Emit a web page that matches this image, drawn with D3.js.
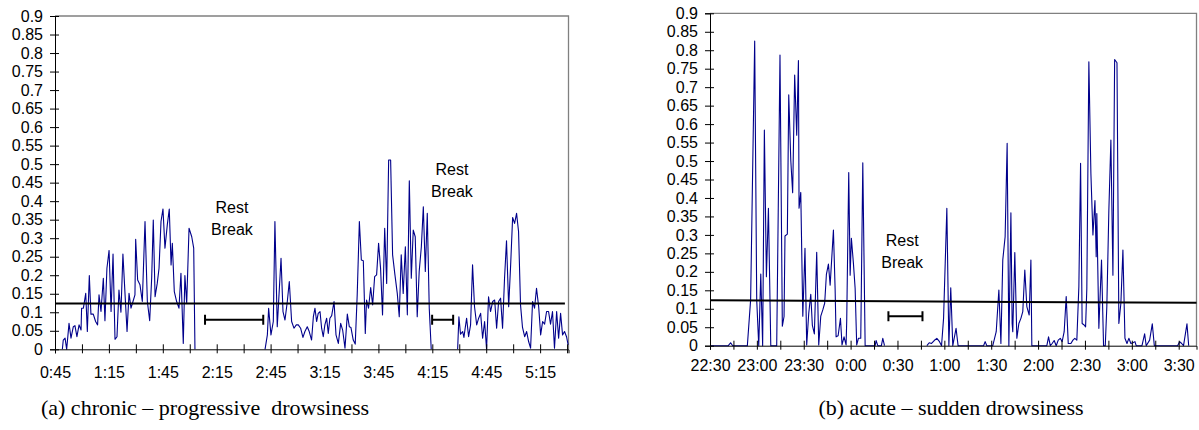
<!DOCTYPE html>
<style>
body { margin: 0; background: #fff; }
.axis .domain, .axis line { stroke: #000; }
</style>
<svg width="1199" height="430"></svg>
<script src="https://d3js.org/d3.v7.min.js"></script>
<script>
// chronic: minutes after midnight, null = no data (rest break)
var chronicTime = [49.1, 49.6, 50.6, 51.5, 52.8, 53.9, 55.2, 56.1, 57.2, 58.4, 59.5, 59.8, 60.8, 62.1, 63.0, 64.1, 65.0, 66.3, 67.6, 68.7,
    69.5, 70.6, 71.9, 72.8, 73.9, 75.1, 76.2, 77.3, 78.4, 79.5, 80.6, 81.7, 82.8, 84.0, 85.1, 86.2, 87.3, 88.4, 89.5, 89.9,
    91.0, 92.3, 93.6, 95.1, 96.4, 97.7, 98.8, 99.7, 100.7, 101.9, 102.9, 104.0, 105.1, 106.2, 107.5, 108.6, 109.6, 110.3, 111.4, 112.7,
    114.0, 115.1, 116.4, 117.3, 118.3, 119.6, 121.1, 122.2, 122.9, 140,
    161.9, 163.2, 163.9, 165.2, 166.5, 167.4, 168.7, 170.8, 171.9, 173.0, 174.3, 175.4, 176.7, 178.0, 179.3, 180.4, 181.7, 183.0, 184.1, 185.4,
    186.5, 187.8, 188.8, 189.7, 190.6, 191.5, 192.5, 193.4, 194.3, 195.2, 196.2, 197.1, 198.0, 199.0, 200.3, 201.4, 202.7, 204.0, 205.1, 206.4,
    207.7, 208.8, 209.7, 211.0, 212.1, 213.2, 214.4, 215.5, 216.6, 217.7, 218.4, 219.5, 220.7, 221.8, 222.9, 224.0, 225.1, 226.2, 227.3, 228.5,
    229.6, 230.7, 231.8, 232.9, 234.2, 235.5, 236.6, 237.7, 238.8, 240.0, 241.1, 242.2, 243.3, 244.4, 245.5, 246.6, 247.7, 248.9, 250.0, 251.1,
    252.2, 253.3, 254.4, 260,
    269.1, 269.8, 270.7, 271.9, 272.6, 273.3, 274.1, 275.2, 276.3, 277.4, 278.5, 279.7, 280.8, 281.9, 283.0, 284.1, 285.2, 286.3, 287.4, 288.6,
    289.7, 290.8, 291.9, 293.0, 294.1, 295.2, 296.3, 297.5, 298.6, 299.7, 300.8, 301.9, 303.0, 304.1, 305.2, 306.4, 307.5, 308.6, 309.7, 310.8,
    311.9, 313.0, 314.2, 315.3, 316.4, 317.5, 318.6, 319.7, 320.8, 321.9, 323.0, 324.2, 325.3, 326.4, 327.5, 328.6, 329.7, 330.6];
var chronicValue = [0, 0.025, 0.030, 0, 0.070, 0.030, 0.061, 0.064, 0.034, 0.066, 0.052, 0.111, 0.111, 0.151, 0.048, 0.199, 0.095, 0.095, 0.075, 0.066,
    0.147, 0.102, 0.192, 0.077, 0.219, 0.267, 0.102, 0.257, 0.027, 0.034, 0.160, 0.100, 0.257, 0.147, 0.048, 0.151, 0.111, 0.129, 0.147, 0.297,
    0.187, 0.174, 0.129, 0.345, 0.129, 0.077, 0.192, 0.349, 0.142, 0.178, 0.219, 0.345, 0.379, 0.273, 0.336, 0.379, 0.228, 0.286, 0.156, 0.129,
    0.111, 0.205, 0.016, 0.199, 0.124, 0.327, 0.304, 0.273, 0, null,
    0, 0.039, 0.111, 0.039, 0.075, 0.345, 0.061, 0.246, 0.102, 0.079, 0.129, 0.183, 0.075, 0.057, 0.066, 0.066, 0.057, 0.032, 0.048, 0.061,
    0.048, 0.025, 0.088, 0.111, 0.075, 0.097, 0.102, 0.057, 0.034, 0.066, 0.084, 0.043, 0.084, 0.091, 0.129, 0.039, 0.016, 0.070, 0.052, 0.003,
    0.095, 0.061, 0.059, 0.025, 0.014, 0.147, 0.345, 0.241, 0.239, 0.043, 0.133, 0.111, 0.167, 0.120, 0.196, 0.201, 0.286, 0.219, 0.093, 0.327,
    0.178, 0.511, 0.511, 0.255, 0.201, 0.151, 0.088, 0.255, 0.151, 0.277, 0.093, 0.455, 0.192, 0.322, 0.304, 0.088, 0.210, 0.277, 0.385, 0.210,
    0.367, 0.111, 0, null,
    0, 0.088, 0.041, 0.048, 0.032, 0.057, 0.084, 0.034, 0.066, 0.228, 0.115, 0.066, 0.084, 0.097, 0.030, 0.075, 0, 0.142, 0.102, 0.129,
    0.133, 0.057, 0.129, 0.138, 0.057, 0.192, 0.293, 0.115, 0.228, 0.356, 0.340, 0.367, 0.318, 0.120, 0.059, 0.034, 0.048, 0.021, 0.003, 0.129,
    0.111, 0.165, 0.115, 0.039, 0.075, 0.068, 0.102, 0.102, 0.068, 0.102, 0.003, 0.102, 0.030, 0.097, 0.039, 0.048, 0.034, 0.012];

// acute: minutes after 22:30
var acuteTime = [0, 11.7, 13.2, 14.5, 23.9, 26.0, 28.6, 29.9, 31.2, 32.5, 33.7, 34.8, 36.1, 37.4, 38.9, 42.7, 44.8, 46.3, 47.4, 48.0,
    49.5, 50.4, 51.7, 52.9, 54.2, 55.5, 56.6, 57.0, 58.1, 59.4, 60.8, 61.9, 63.2, 64.5, 65.5, 66.8, 68.3, 69.6, 70.9, 72.2,
    73.4, 74.5, 75.8, 76.9, 79.0, 80.1, 80.7, 82.0, 83.5, 84.5, 85.8, 87.1, 87.5, 88.8, 89.7, 90.5, 91.8, 92.9, 93.9, 95.0,
    96.5, 97.8, 99.3, 105.7, 106.3, 107.4, 109.7, 110.6, 111.7, 125,
    138.8, 140.3, 141.8, 143.5, 145.2, 146.9, 148.2, 149.5, 151.6, 152.9, 154.1, 155.4, 157.5, 158.8, 175.1, 176.1, 177.2, 181.0, 183.2, 184.9,
    186.2, 187.4, 188.9, 190.2, 191.3, 192.6, 193.4, 193.8, 195.1, 196.4, 197.7, 199.0, 200.2, 201.5, 202.8, 204.3, 205.4, 206.0, 215.6, 216.7,
    217.8, 219.0, 220.3, 221.6, 222.9, 224.2, 225.4, 226.7, 228.0, 229.3, 231.0, 232.3, 233.5, 234.8, 236.1, 237.2, 238.2, 239.5, 240.4, 241.2,
    242.5, 243.8, 245.1, 246.4, 247.2, 247.6, 248.9, 250.6, 251.9, 253.0, 254.0, 255.3, 256.6, 257.9, 259.0, 260.5, 261.7, 263.0, 264.3, 265.6,
    266.9, 268.1, 269.4, 270.7, 272.0, 272.8, 276.5, 278.2, 279.2, 281.4, 283.1, 284.4, 299.3, 300.6, 301.9, 303.1, 305.3, 306.4];
var acuteValue = [0, 0, 0.008, 0, 0, 0.124, 0.825, 0.124, 0, 0.194, 0, 0.584, 0.187, 0.372, 0, 0, 0.787, 0.053, 0.079, 0.297,
    0.302, 0.679, 0.503, 0.414, 0.733, 0.570, 0.772, 0.372, 0.415, 0.080, 0.264, 0.002, 0.088, 0.139, 0.056, 0.032, 0.253, 0.002, 0.080, 0.097,
    0.115, 0.193, 0.221, 0.164, 0.313, 0.151, 0.024, 0.027, 0.074, 0.002, 0.024, 0.002, 0.065, 0.469, 0.191, 0.291, 0.223, 0.155, 0.002, 0.020,
    0.020, 0.495, 0, 0, 0.014, 0, 0, 0.020, 0, null,
    0, 0.008, 0.006, 0.014, 0.020, 0.011, 0, 0.074, 0.372, 0, 0.157, 0, 0.047, 0, 0, 0.011, 0, 0, 0.038, 0.151,
    0.006, 0.232, 0.295, 0.548, 0, 0.360, 0.060, 0.038, 0.252, 0.020, 0.060, 0.074, 0.092, 0.205, 0.106, 0.083, 0.232, 0, 0, 0.024,
    0, 0.006, 0.014, 0, 0.015, 0.020, 0.011, 0.038, 0.133, 0.006, 0.006, 0.015, 0.020, 0.015, 0.160, 0.494, 0.060, 0.056, 0.051, 0.155,
    0.769, 0.467, 0.300, 0.393, 0.241, 0.358, 0.047, 0.232, 0, 0, 0.106, 0.367, 0.557, 0.191, 0.775, 0.766, 0.060, 0.115, 0.259, 0.020,
    0.006, 0.020, 0.006, 0.008, 0.011, 0, 0, 0.032, 0, 0.015, 0.059, 0, 0, 0.011, 0.006, 0, 0.059, 0];

var chronicThreshold = [0.124, 0.124];
var acuteThreshold = [0.123, 0.116];
var chronicBreaks = [[128.5, 160.9], [254.9, 266.6]];
var acuteBreaks = [[114.2, 136.0]];
var yTicks = d3.range(0, 0.901, 0.05);
var chronicCaption = "(a) chronic \u2013 progressive  drowsiness";
var acuteCaption = "(b) acute \u2013 sudden drowsiness";

var sans = "'Liberation Sans', Arial, sans-serif",
    serif = "'Liberation Serif', 'Times New Roman', serif";

var svg = d3.select("svg");

function clock(m) {
    var h = Math.floor(m / 60) % 24, mm = Math.round(m % 60);
    return h + ":" + (mm < 10 ? "0" : "") + mm;
}

function panel(p) {
    var x = d3.scaleLinear().domain(p.xDomain).range([p.left, p.right]);
    var y = d3.scaleLinear().domain([0, 0.9]).range([p.bottom, p.top]);
    var g = svg.append("g");

    // frame
    g.append("path")
        .attr("fill", "none")
        .attr("stroke", "#808080")
        .attr("stroke-width", 1.3)
        .attr("d", "M" + p.left + "," + p.top + "H" + p.right + "V" + p.bottom);

    var line = d3.line()
        .defined(function(d) { return d[1] != null; })
        .x(function(d) { return x(d[0]); })
        .y(function(d) { return y(d[1]); });

    g.append("path")
        .datum(d3.zip(p.time, p.value))
        .attr("fill", "none")
        .attr("stroke", "#00008b")
        .attr("stroke-width", 1.1)
        .attr("stroke-linejoin", "round")
        .attr("d", line);

    g.append("line")
        .attr("x1", x(p.xDomain[0])).attr("x2", x(p.thresholdEnd))
        .attr("y1", y(p.threshold[0])).attr("y2", y(p.threshold[1]))
        .attr("stroke", "#000").attr("stroke-width", 2);

    p.breaks.forEach(function(b) {
        var yy = y(0.08);
        g.append("path")
            .attr("fill", "none").attr("stroke", "#000").attr("stroke-width", 2)
            .attr("d", "M" + x(b[0]) + "," + (yy - 5) + "V" + (yy + 5) +
                "M" + x(b[0]) + "," + yy + "H" + x(b[1]) +
                "M" + x(b[1]) + "," + (yy - 5) + "V" + (yy + 5));
    });

    p.notes.forEach(function(n) {
        var t = g.append("text")
            .attr("text-anchor", "middle")
            .style("font-family", sans).style("font-size", "16px");
        t.append("tspan").attr("x", x(n[0])).attr("y", y(n[1])).text("Rest");
        t.append("tspan").attr("x", x(n[0])).attr("y", y(n[1]) + 22).text("Break");
    });

    var xAxis = g.append("g")
        .attr("class", "axis")
        .attr("transform", "translate(0," + p.bottom + ")")
        .call(d3.axisBottom(x)
            .tickValues(d3.range(p.xDomain[0], p.xDomain[1] + 0.5, 15))
            .tickSizeOuter(0)
            .tickSize(4)
            .tickPadding(p.xPad)
            .tickFormat(function(d, i) { return i % 2 ? "" : clock(d + p.clockOffset); }));
    xAxis.selectAll(".tick line").attr("y1", -5).attr("y2", 4);
    xAxis.selectAll("text").style("font-family", sans).style("font-size", "16px").attr("fill", "#000");

    var yAxis = g.append("g")
        .attr("class", "axis")
        .attr("transform", "translate(" + p.left + ",0)")
        .call(d3.axisLeft(y)
            .tickValues(yTicks)
            .tickSizeOuter(0)
            .tickSize(5)
            .tickPadding(7)
            .tickFormat(function(d) { return String(+d.toFixed(2)); }));
    yAxis.selectAll(".tick line").attr("x1", 4);
    yAxis.selectAll("text").style("font-family", sans).style("font-size", "16px").attr("fill", "#000");

    svg.append("text")
        .attr("x", p.captionX)
        .attr("y", 415)
        .attr("text-anchor", "middle")
        .style("font-family", serif)
        .style("font-size", "22px")
        .style("white-space", "pre")
        .text(p.caption);
}

panel({
    time: chronicTime, value: chronicValue,
    xDomain: [45, 330.8], left: 55, right: 568.5, top: 16, bottom: 349.3,
    clockOffset: 0, xPad: 13, threshold: chronicThreshold, thresholdEnd: 328.8,
    breaks: chronicBreaks, notes: [[143.5, 0.367], [265.9, 0.471]],
    caption: chronicCaption, captionX: 205
});

panel({
    time: acuteTime, value: acuteValue,
    xDomain: [0, 311.4], left: 710, right: 1196.5, top: 13.3, bottom: 345.7,
    clockOffset: 1350, xPad: 10, threshold: acuteThreshold, thresholdEnd: 311.4,
    breaks: acuteBreaks, notes: [[123, 0.271]],
    caption: acuteCaption, captionX: 951
});
</script>
